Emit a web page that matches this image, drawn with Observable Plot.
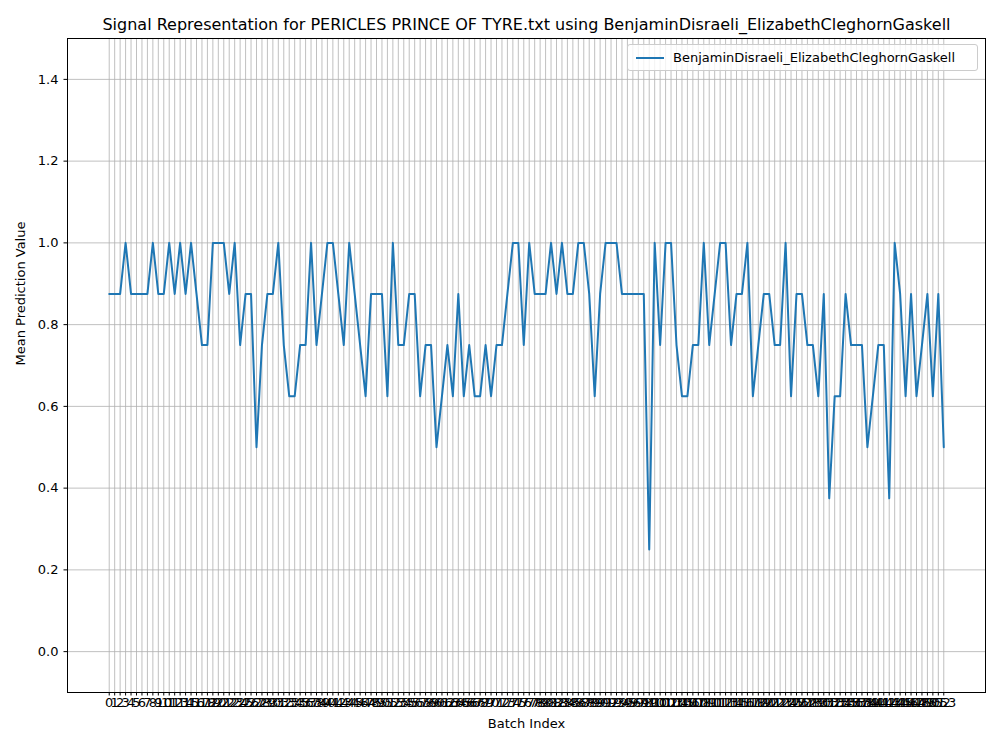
<!DOCTYPE html>
<html>
<head>
<meta charset="utf-8">
<script src="https://cdn.jsdelivr.net/npm/d3@7"></script>
<script src="https://cdn.jsdelivr.net/npm/@observablehq/plot@0.6"></script>
<style>
  body { margin: 0; background: #fff; font-family: "DejaVu Sans", sans-serif; }
  #wrap { position: relative; width: 1000px; height: 750px; }
  #legend { position: absolute; left: 627px; top: 44px; width: 351px; height: 27px;
    border: 1px solid #ccc; border-radius: 3px; background: rgba(255,255,255,0.8);
    font-size: 13px; display: flex; align-items: center; box-sizing: border-box; }
  #legend span.sw { display: inline-block; width: 28px; height: 2px; background: #1f77b4; margin: 0 9px 0 8px; }
</style>
</head>
<body>
<div id="wrap">
  <div id="graph"></div>
  <div id="legend"><span class="sw"></span>BenjaminDisraeli_ElizabethCleghornGaskell</div>
</div>
<script>
const seriesName = "BenjaminDisraeli_ElizabethCleghornGaskell";
const titleText = "Signal Representation for PERICLES PRINCE OF TYRE.txt using BenjaminDisraeli_ElizabethCleghornGaskell";
const yTicks = [0.0, 0.2, 0.4, 0.6, 0.8, 1.0, 1.2, 1.4];
const values = [
  0.875,0.875,0.875,1.0,0.875,0.875,0.875,0.875,1.0,0.875,
  0.875,1.0,0.875,1.0,0.875,1.0,0.875,0.75,0.75,1.0,
  1.0,1.0,0.875,1.0,0.75,0.875,0.875,0.5,0.75,0.875,
  0.875,1.0,0.75,0.625,0.625,0.75,0.75,1.0,0.75,0.875,
  1.0,1.0,0.875,0.75,1.0,0.875,0.75,0.625,0.875,0.875,
  0.875,0.625,1.0,0.75,0.75,0.875,0.875,0.625,0.75,0.75,
  0.5,0.625,0.75,0.625,0.875,0.625,0.75,0.625,0.625,0.75,
  0.625,0.75,0.75,0.875,1.0,1.0,0.75,1.0,0.875,0.875,
  0.875,1.0,0.875,1.0,0.875,0.875,1.0,1.0,0.875,0.625,
  0.875,1.0,1.0,1.0,0.875,0.875,0.875,0.875,0.875,0.25,
  1.0,0.75,1.0,1.0,0.75,0.625,0.625,0.75,0.75,1.0,
  0.75,0.875,1.0,1.0,0.75,0.875,0.875,1.0,0.625,0.75,
  0.875,0.875,0.75,0.75,1.0,0.625,0.875,0.875,0.75,0.75,
  0.625,0.875,0.375,0.625,0.625,0.875,0.75,0.75,0.75,0.5,
  0.625,0.75,0.75,0.375,1.0,0.875,0.625,0.875,0.625,0.75,
  0.875,0.625,0.875,0.5
];
const data = values.map((v, i) => ({index: i, value: v}));
const xTicks = values.map((v, i) => i);

const chart = Plot.plot({
  width: 1000,
  height: 750,
  marginTop: 38,
  marginBottom: 58,
  marginLeft: 67,
  marginRight: 15,
  style: {fontFamily: "DejaVu Sans, sans-serif", fontSize: "13px", color: "#000"},
  x: {domain: [-7.65, 160.65]},
  y: {domain: [-0.1, 1.5]},
  marks: [
    Plot.gridX(xTicks, {stroke: "#b0b0b0", strokeOpacity: 1, strokeWidth: 0.8}),
    Plot.gridY(yTicks, {stroke: "#b0b0b0", strokeOpacity: 1, strokeWidth: 0.8}),
    Plot.frame({stroke: "#000"}),
    Plot.axisX(xTicks, {tickSize: 3.5, tickFormat: d => String(d), fontSize: 13, label: null, tickPadding: 2}),
    Plot.axisY(yTicks, {tickSize: 3.5, tickFormat: d => d.toFixed(1), fontSize: 13, label: null}),
    Plot.text([titleText], {frameAnchor: "top", dy: -20, fontSize: 16}),
    Plot.text(["Batch Index"], {frameAnchor: "bottom", dy: 35, fontSize: 13}),
    Plot.text(["Mean Prediction Value"], {frameAnchor: "left", dx: -47, rotate: -90, fontSize: 13}),
    Plot.line(data, {x: "index", y: "value", stroke: "#1f77b4", strokeWidth: 2})
  ]
});
d3.select("#graph").append(() => chart);
</script>
</body>
</html>
